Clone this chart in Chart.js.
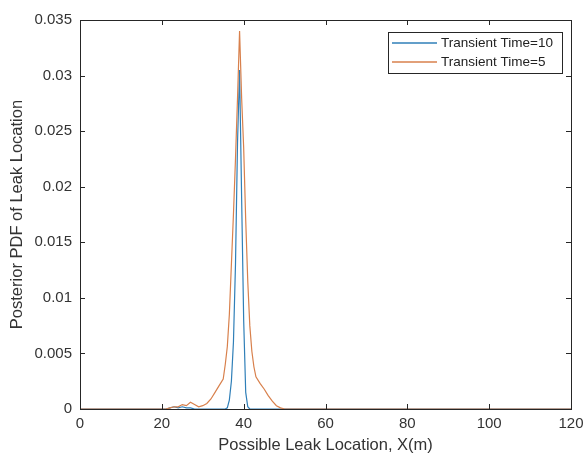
<!DOCTYPE html>
<html>
<head>
<meta charset="utf-8">
<script src="https://cdn.jsdelivr.net/npm/chart.js@4/dist/chart.umd.min.js"></script>
<style>
  body { margin: 0; background: #fff; }
</style>
</head>
<body>
<canvas id="pdfChart" width="585" height="455"></canvas>
<script>
// possible leak location X(m)
var locations = [0, 20, 21, 22, 23, 24, 25, 26, 27, 28, 29, 30, 31, 32, 33, 34, 35,
  35.5, 36, 36.5, 37, 37.5, 38, 38.5, 39, 39.5, 40, 40.5, 41, 41.5, 42, 42.5,
  43, 44, 45, 46, 47, 48, 49, 50, 120];

// posterior pdf, transient time = 10
var pdfTime10 = [0, 0, 0, 0.0001, 0.0002, 0.0001, 0.0002, 0.0001, 0.0001, 0, 0, 0, 0, 0, 0, 0, 0,
  0, 0.0001, 0.0008, 0.0025, 0.006, 0.013, 0.024, 0.0305, 0.019, 0.008, 0.0015, 0.0002, 0, 0, 0,
  0, 0, 0, 0, 0, 0, 0, 0, 0];

// posterior pdf, transient time = 5
var pdfTime5 = [0, 0, 0, 0.0001, 0.0002, 0.0002, 0.0004, 0.0003, 0.0006, 0.0004, 0.0002, 0.0003, 0.0005, 0.0009, 0.0015, 0.0021, 0.0027,
  0.004, 0.0056, 0.0085, 0.013, 0.0175, 0.0225, 0.028, 0.034, 0.028, 0.0235, 0.017, 0.0115, 0.0075, 0.0052, 0.0038,
  0.0029, 0.0023, 0.0018, 0.0012, 0.0007, 0.0003, 0.0001, 0, 0];

var seriesLabels = ["Transient Time=10", "Transient Time=5"];
var xTicks = [0, 20, 40, 60, 80, 100, 120];
var yTicks = [0, 0.005, 0.01, 0.015, 0.02, 0.025, 0.03, 0.035];

var axisColor = "#262626";
var textColor = "#333333";
var family = "'Liberation Sans', Arial, sans-serif";

function toPoints(xs, ys) {
  return xs.map(function (x, i) { return { x: x, y: ys[i] }; });
}

// matlab style box, inward ticks and boxed legend
var matlabBox = {
  id: 'matlabBox',
  afterDraw: function (chart) {
    var ctx = chart.ctx;
    var area = chart.chartArea;
    var xs = chart.scales.x, ys = chart.scales.y;
    var len = 5;
    ctx.save();
    ctx.strokeStyle = axisColor;
    ctx.lineWidth = 1;
    ctx.strokeRect(area.left + 0.5, area.top + 0.5, area.right - area.left, area.bottom - area.top);
    ctx.beginPath();
    xTicks.forEach(function (v) {
      var px = Math.round(xs.getPixelForValue(v)) + 0.5;
      ctx.moveTo(px, area.bottom); ctx.lineTo(px, area.bottom - len);
      ctx.moveTo(px, area.top); ctx.lineTo(px, area.top + len);
    });
    yTicks.forEach(function (v) {
      var py = Math.round(ys.getPixelForValue(v)) + 0.5;
      ctx.moveTo(area.left, py); ctx.lineTo(area.left + len, py);
      ctx.moveTo(area.right, py); ctx.lineTo(area.right - len, py);
    });
    ctx.stroke();

    // legend
    var boxW = 174, boxH = 41;
    var bx = area.right - 9 - boxW, by = area.top + 12;
    ctx.fillStyle = "#fff";
    ctx.fillRect(bx, by, boxW, boxH);
    ctx.strokeRect(bx + 0.5, by + 0.5, boxW, boxH);
    ctx.font = "13.5px " + family;
    ctx.textBaseline = "middle";
    chart.data.datasets.forEach(function (ds, i) {
      var ry = by + 11 + i * 19;
      ctx.strokeStyle = ds.borderColor;
      ctx.lineWidth = 1.3;
      ctx.beginPath();
      ctx.moveTo(bx + 4, ry); ctx.lineTo(bx + 49, ry);
      ctx.stroke();
      ctx.fillStyle = "#222";
      ctx.fillText(ds.label, bx + 53, ry);
    });
    ctx.restore();
  }
};

var pdfChart = new Chart(document.getElementById('pdfChart'), {
  type: 'line',
  data: {
    datasets: [
      {
        label: seriesLabels[0],
        data: toPoints(locations, pdfTime10),
        borderColor: "#2f7fb8",
        borderWidth: 1.2,
        pointRadius: 0,
        fill: false,
        tension: 0,
        order: 1
      },
      {
        label: seriesLabels[1],
        data: toPoints(locations, pdfTime5),
        borderColor: "#d8804c",
        borderWidth: 1.2,
        pointRadius: 0,
        fill: false,
        tension: 0,
        order: 0
      }
    ]
  },
  options: {
    responsive: false,
    animation: false,
    layout: { padding: { top: 20, right: 14, left: 0, bottom: 0 } },
    plugins: {
      legend: { display: false },
      tooltip: { enabled: false }
    },
    scales: {
      x: {
        type: 'linear',
        min: 0,
        max: 120,
        afterFit: function (scale) {
          scale.height = 46;
          scale.paddingLeft = 0;
          scale.paddingRight = 0;
        },
        afterBuildTicks: function (scale) {
          scale.ticks = xTicks.map(function (v) { return { value: v }; });
        },
        grid: { display: false, drawTicks: false },
        border: { display: false },
        ticks: {
          padding: 6,
          color: textColor,
          font: { family: family, size: 15 },
          maxRotation: 0
        },
        title: {
          display: true,
          text: "Possible Leak Location, X(m)",
          color: textColor,
          font: { family: family, size: 16.5 },
          padding: { top: 0, bottom: 0 }
        }
      },
      y: {
        type: 'linear',
        min: 0,
        max: 0.035,
        afterFit: function (scale) {
          scale.width = 80;
          scale.paddingTop = 0;
          scale.paddingBottom = 0;
        },
        afterBuildTicks: function (scale) {
          scale.ticks = yTicks.map(function (v) { return { value: v }; });
        },
        grid: { display: false, drawTicks: false },
        border: { display: false },
        ticks: {
          padding: 8,
          color: textColor,
          font: { family: family, size: 15 },
          callback: function (v) { return String(+Number(v).toFixed(3)); }
        },
        title: {
          display: true,
          text: "Posterior PDF of Leak Location",
          color: textColor,
          font: { family: family, size: 16.5 },
          padding: { top: 8, bottom: 0 }
        }
      }
    }
  },
  plugins: [matlabBox]
});
</script>
</body>
</html>
